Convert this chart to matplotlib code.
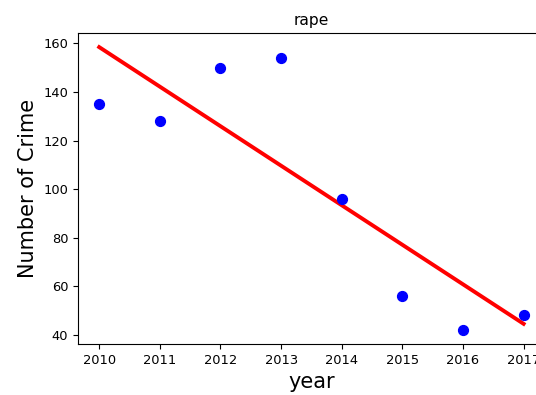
import matplotlib
matplotlib.use("Agg")
import matplotlib.pyplot as plt

# yearly counts
years = [2010, 2011, 2012, 2013, 2014, 2015, 2016, 2017]
counts = [135, 128, 150, 154, 96, 56, 42, 48]

# trend line end points
trend_years = [2010, 2017]
trend_values = [158.5, 44.5]

fig = plt.figure(figsize=(5.36, 3.95), dpi=100)
ax = fig.add_axes([0.1455, 0.129, 0.871, 0.7875])

ax.scatter(years, counts, color="blue", s=50, zorder=3)
ax.plot(trend_years, trend_values, color="red", linewidth=2.8)

ax.set_title("rape", fontsize=11.2)
ax.set_xlabel("year", fontsize=15)
ax.set_ylabel("Number of Crime", fontsize=15)
ax.tick_params(labelsize=9.4)

fig.savefig("out.png", dpi=100)
